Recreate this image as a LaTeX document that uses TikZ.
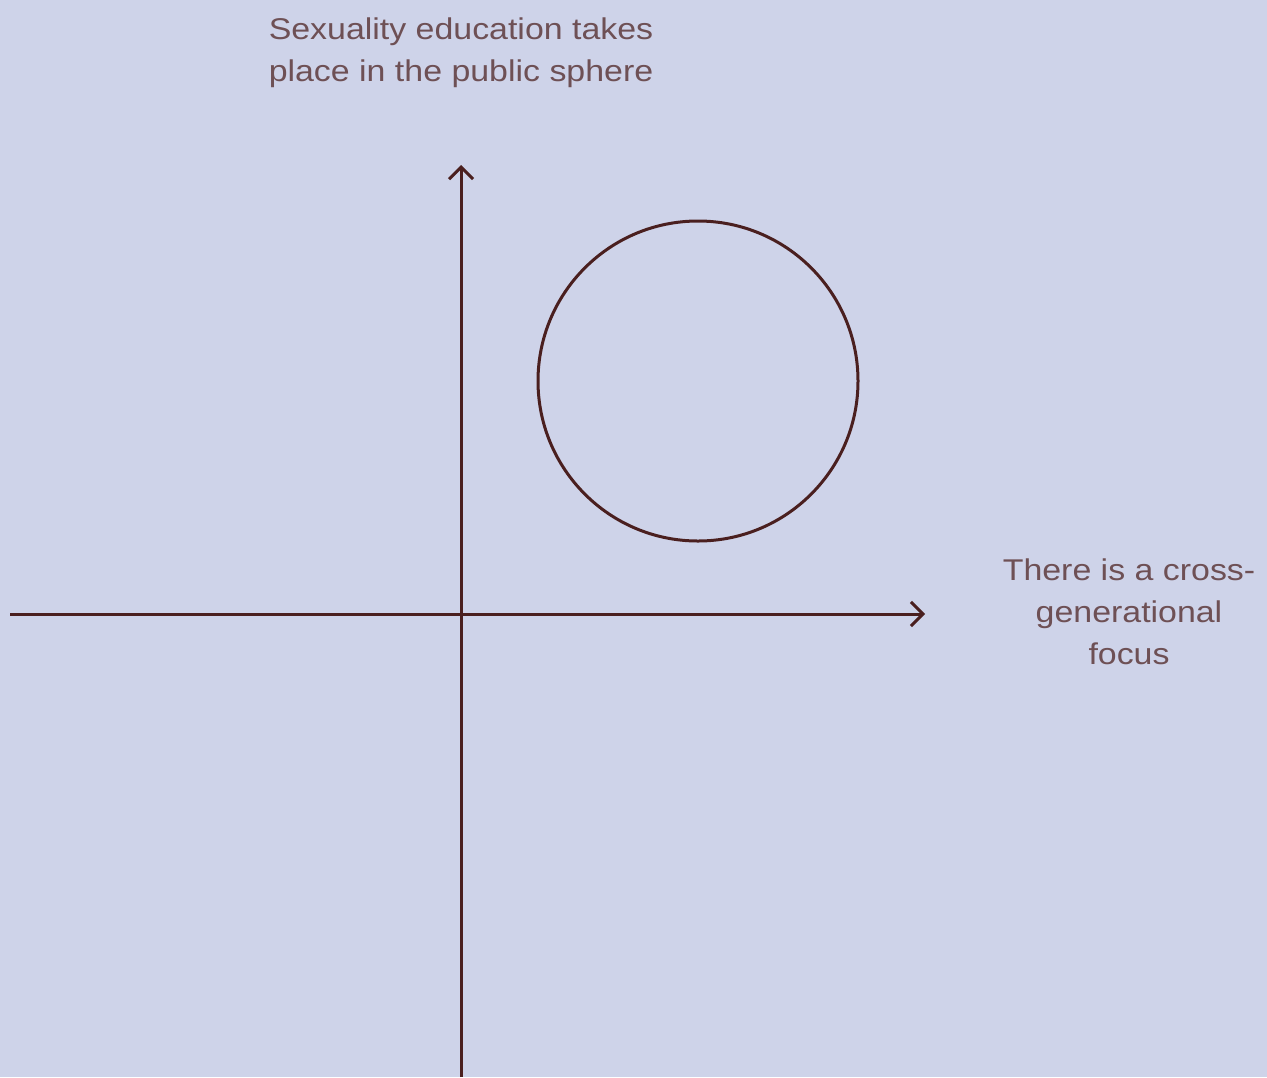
\documentclass[tikz,border=0pt]{standalone}
\usepackage{fontspec}
\setmainfont[FakeStretch=1.13]{Liberation Sans}
\usetikzlibrary{arrows.meta}
\definecolor{bgblue}{HTML}{CED3E9}
\definecolor{axisbrown}{HTML}{4A1F1F}
\definecolor{labelbrown}{HTML}{6E5055}
\tikzset{>={Straight Barb[length=6pt,width=12pt,line width=1.5pt]}}
\tikzset{
  axis/.style={draw=axisbrown, line width=1.5pt},
  axislabel/.style={text=labelbrown, align=center, inner sep=0pt,
    font=\fontsize{15pt}{21pt}\selectfont},
}
\begin{document}
\begin{tikzpicture}[x=0.5pt, y=-0.5pt]
  \fill[bgblue] (0,0) rectangle (1267,1077);
  \useasboundingbox (0,0) rectangle (1267,1077);
  % axes
  \coordinate (origin) at (461,614);
  \coordinate (yTop) at (461,165);
  \coordinate (yBottom) at (461,1077);
  \coordinate (xLeft) at (10,614);
  \coordinate (xRight) at (925,614);
  \draw[axis,->] (yBottom) -- (yTop);
  \draw[axis,->] (xLeft) -- (xRight);
  % circle
  \node[axis, circle, minimum size=160pt, inner sep=0pt] (focusCircle) at (698,381) {};
  % labels
  \node[axislabel] (yLabel) at (461,53) {Sexuality education takes\\place in the public sphere};
  \node[axislabel] (xLabel) at (1129,612) {There is a cross-\\generational\\focus};
\end{tikzpicture}
\end{document}
